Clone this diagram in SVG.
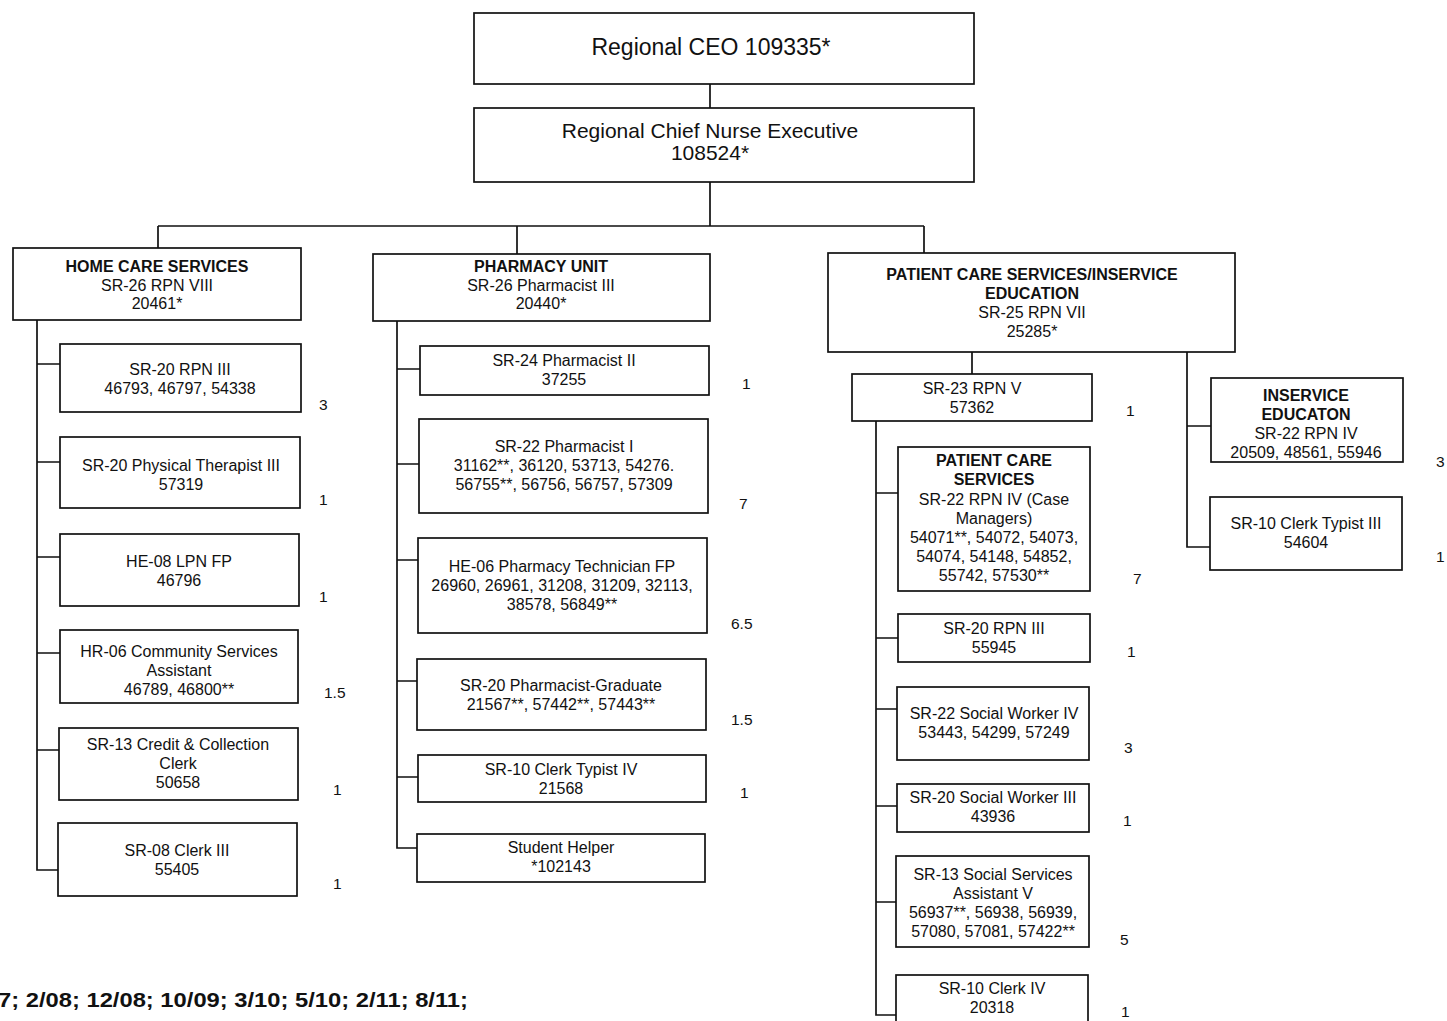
<svg xmlns="http://www.w3.org/2000/svg" width="1447" height="1021" viewBox="0 0 1447 1021">
<style>
rect{fill:#fff;stroke:#111;stroke-width:1.7}
text{font-family:"Liberation Sans",Arial,sans-serif;font-size:16px;fill:#111;text-anchor:middle}
.b{font-weight:bold;font-size:16px}
.big{font-size:23px}
.mid{font-size:21px}
.n{text-anchor:start;font-size:15.5px}
.foot{font-size:21px;font-weight:bold;text-anchor:start}
#connectors path{fill:none;stroke:#111;stroke-width:1.7}
</style>
<rect x="0" y="0" width="1447" height="1021" style="stroke:none"/>
<g id="connectors">
<path d="M710 84V108M710 182V226M158 226H924M158 226V248M517 226V254M924 226V253"/>
<path d="M37 320V870H60M37 364H60M37 462H60M37 557H60M37 653H60M37 750H60"/>
<path d="M397 321V848H418M397 369H420M397 464H420M397 560H418M397 681H417M397 777H418"/>
<path d="M972 352V374M1187 352V547H1210M1187 426H1211"/>
<path d="M876 421V1015H898M876 493H898M876 638H898M876 709H898M876 806H898M876 902H898"/>
</g>
<g id="ceo"><rect x="474" y="13" width="500" height="71"/><text class="big" x="711" y="55">Regional CEO 109335*</text></g>
<g id="cne"><rect x="474" y="108" width="500" height="74"/><text class="mid" x="710" y="138">Regional Chief Nurse Executive</text><text class="mid" x="710" y="160">108524*</text></g>

<g id="home"><rect x="13" y="248" width="288" height="72"/><text class="b" x="157" y="272">HOME CARE SERVICES</text><text x="157" y="291">SR-26 RPN VIII</text><text x="157" y="309">20461*</text></g>
<g id="h1"><rect x="60" y="344" width="241" height="68"/><text x="180" y="375">SR-20 RPN III</text><text x="180" y="394">46793, 46797, 54338</text><text class="n" x="319" y="410">3</text></g>
<g id="h2"><rect x="60" y="437" width="240" height="71"/><text x="181" y="471">SR-20 Physical Therapist III</text><text x="181" y="490">57319</text><text class="n" x="319" y="505">1</text></g>
<g id="h3"><rect x="60" y="534" width="239" height="72"/><text x="179" y="567">HE-08 LPN FP</text><text x="179" y="586">46796</text><text class="n" x="319" y="602">1</text></g>
<g id="h4"><rect x="60" y="630" width="238" height="73"/><text x="179" y="657">HR-06 Community Services</text><text x="179" y="676">Assistant</text><text x="179" y="695">46789, 46800**</text><text class="n" x="324" y="698">1.5</text></g>
<g id="h5"><rect x="59" y="728" width="239" height="72"/><text x="178" y="750">SR-13 Credit &amp; Collection</text><text x="178" y="769">Clerk</text><text x="178" y="788">50658</text><text class="n" x="333" y="795">1</text></g>
<g id="h6"><rect x="58" y="823" width="239" height="73"/><text x="177" y="856">SR-08 Clerk III</text><text x="177" y="875">55405</text><text class="n" x="333" y="889">1</text></g>

<g id="pharm"><rect x="373" y="254" width="337" height="67"/><text class="b" x="541" y="272">PHARMACY UNIT</text><text x="541" y="291">SR-26 Pharmacist III</text><text x="541" y="309">20440*</text></g>
<g id="p1"><rect x="420" y="346" width="289" height="49"/><text x="564" y="366">SR-24 Pharmacist II</text><text x="564" y="385">37255</text><text class="n" x="742" y="389">1</text></g>
<g id="p2"><rect x="419" y="419" width="289" height="94"/><text x="564" y="452">SR-22 Pharmacist I</text><text x="564" y="471">31162**, 36120, 53713, 54276.</text><text x="564" y="490">56755**, 56756, 56757, 57309</text><text class="n" x="739" y="509">7</text></g>
<g id="p3"><rect x="418" y="538" width="289" height="95"/><text x="562" y="572">HE-06 Pharmacy Technician FP</text><text x="562" y="591">26960, 26961, 31208, 31209, 32113,</text><text x="562" y="610">38578, 56849**</text><text class="n" x="731" y="629">6.5</text></g>
<g id="p4"><rect x="417" y="659" width="289" height="71"/><text x="561" y="691">SR-20 Pharmacist-Graduate</text><text x="561" y="710">21567**, 57442**, 57443**</text><text class="n" x="731" y="725">1.5</text></g>
<g id="p5"><rect x="418" y="755" width="288" height="47"/><text x="561" y="775">SR-10 Clerk Typist IV</text><text x="561" y="794">21568</text><text class="n" x="740" y="798">1</text></g>
<g id="p6"><rect x="417" y="834" width="288" height="48"/><text x="561" y="853">Student Helper</text><text x="561" y="872">*102143</text></g>

<g id="pcs"><rect x="828" y="253" width="407" height="99"/><text class="b" x="1032" y="280">PATIENT CARE SERVICES/INSERVICE</text><text class="b" x="1032" y="299">EDUCATION</text><text x="1032" y="318">SR-25 RPN VII</text><text x="1032" y="337">25285*</text></g>
<g id="c0"><rect x="852" y="374" width="240" height="47"/><text x="972" y="394">SR-23 RPN V</text><text x="972" y="413">57362</text><text class="n" x="1126" y="416">1</text></g>
<g id="c1"><rect x="898" y="447" width="192" height="144"/><text class="b" x="994" y="466">PATIENT CARE</text><text class="b" x="994" y="485">SERVICES</text><text x="994" y="505">SR-22 RPN IV (Case</text><text x="994" y="524">Managers)</text><text x="994" y="543">54071**, 54072, 54073,</text><text x="994" y="562">54074, 54148, 54852,</text><text x="994" y="581">55742, 57530**</text><text class="n" x="1133" y="584">7</text></g>
<g id="c2"><rect x="898" y="614" width="192" height="48"/><text x="994" y="634">SR-20 RPN III</text><text x="994" y="653">55945</text><text class="n" x="1127" y="657">1</text></g>
<g id="c3"><rect x="897" y="687" width="192" height="73"/><text x="994" y="719">SR-22 Social Worker IV</text><text x="994" y="738">53443, 54299, 57249</text><text class="n" x="1124" y="753">3</text></g>
<g id="c4"><rect x="897" y="784" width="192" height="48"/><text x="993" y="803">SR-20 Social Worker III</text><text x="993" y="822">43936</text><text class="n" x="1123" y="826">1</text></g>
<g id="c5"><rect x="896" y="856" width="193" height="91"/><text x="993" y="880">SR-13 Social Services</text><text x="993" y="899">Assistant V</text><text x="993" y="918">56937**, 56938, 56939,</text><text x="993" y="937">57080, 57081, 57422**</text><text class="n" x="1120" y="945">5</text></g>
<g id="c6"><rect x="896" y="975" width="192" height="50"/><text x="992" y="994">SR-10 Clerk IV</text><text x="992" y="1013">20318</text><text class="n" x="1121" y="1017">1</text></g>

<g id="inserv"><rect x="1211" y="378" width="192" height="84"/><text class="b" x="1306" y="401">INSERVICE</text><text class="b" x="1306" y="420">EDUCATON</text><text x="1306" y="439">SR-22 RPN IV</text><text x="1306" y="458">20509, 48561, 55946</text><text class="n" x="1436" y="467">3</text></g>
<g id="ctyp"><rect x="1210" y="497" width="192" height="73"/><text x="1306" y="529">SR-10 Clerk Typist III</text><text x="1306" y="548">54604</text><text class="n" x="1436" y="562">1</text></g>

<text class="foot" x="-2" y="1007" textLength="470" lengthAdjust="spacingAndGlyphs">7; 2/08; 12/08; 10/09; 3/10; 5/10; 2/11; 8/11;</text>
</svg>
